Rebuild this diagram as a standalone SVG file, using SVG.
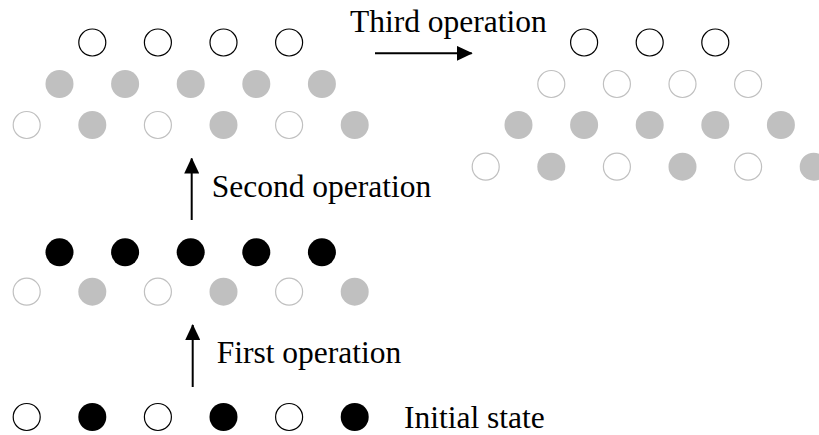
<svg xmlns="http://www.w3.org/2000/svg" width="819" height="435" viewBox="0 0 819 435">
<style>
.o{fill:#fff;stroke:#000;stroke-width:1.2}
.lo{fill:#fff;stroke:#c0c0c0;stroke-width:1.2}
.g{fill:#c0c0c0}
.b{fill:#000}
.t{font-family:"Liberation Serif","Times New Roman",serif;font-size:31.5px;fill:#000}
.a{stroke:#000;stroke-width:2;fill:none}
</style>
<defs>
<marker id="ah" viewBox="0 0 16 15" refX="15" refY="7.5" markerWidth="16" markerHeight="15" markerUnits="userSpaceOnUse" orient="auto">
<path d="M0,0 L16,7.5 L0,15 Z" fill="#000"/>
</marker>
</defs>
<rect width="819" height="435" fill="#fff"/>
<g id="group-third">
<circle class="o" cx="92.3" cy="42.5" r="13.5"/>
<circle class="o" cx="157.9" cy="42.5" r="13.5"/>
<circle class="o" cx="223.5" cy="42.5" r="13.5"/>
<circle class="o" cx="289.1" cy="42.5" r="13.5"/>
<circle class="g" cx="59.5" cy="84" r="14"/>
<circle class="g" cx="125.1" cy="84" r="14"/>
<circle class="g" cx="190.7" cy="84" r="14"/>
<circle class="g" cx="256.3" cy="84" r="14"/>
<circle class="g" cx="321.9" cy="84" r="14"/>
<circle class="lo" cx="26.7" cy="125" r="13.5"/>
<circle class="g" cx="92.3" cy="125" r="14"/>
<circle class="lo" cx="157.9" cy="125" r="13.5"/>
<circle class="g" cx="223.5" cy="125" r="14"/>
<circle class="lo" cx="289.1" cy="125" r="13.5"/>
<circle class="g" cx="354.7" cy="125" r="14"/>
</g>
<g id="group-final">
<circle class="o" cx="584.1" cy="42.5" r="13.5"/>
<circle class="o" cx="649.7" cy="42.5" r="13.5"/>
<circle class="o" cx="715.3" cy="42.5" r="13.5"/>
<circle class="lo" cx="551.3" cy="84" r="13.5"/>
<circle class="lo" cx="616.9" cy="84" r="13.5"/>
<circle class="lo" cx="682.5" cy="84" r="13.5"/>
<circle class="lo" cx="748.1" cy="84" r="13.5"/>
<circle class="g" cx="518.5" cy="125" r="14"/>
<circle class="g" cx="584.1" cy="125" r="14"/>
<circle class="g" cx="649.7" cy="125" r="14"/>
<circle class="g" cx="715.3" cy="125" r="14"/>
<circle class="g" cx="780.9" cy="125" r="14"/>
<circle class="lo" cx="485.7" cy="166.7" r="13.5"/>
<circle class="g" cx="551.3" cy="166.7" r="14"/>
<circle class="lo" cx="616.9" cy="166.7" r="13.5"/>
<circle class="g" cx="682.5" cy="166.7" r="14"/>
<circle class="lo" cx="748.1" cy="166.7" r="13.5"/>
<circle class="g" cx="813.7" cy="166.7" r="14"/>
</g>
<g id="group-second">
<circle class="b" cx="59.5" cy="252.3" r="14"/>
<circle class="b" cx="125.1" cy="252.3" r="14"/>
<circle class="b" cx="190.7" cy="252.3" r="14"/>
<circle class="b" cx="256.3" cy="252.3" r="14"/>
<circle class="b" cx="321.9" cy="252.3" r="14"/>
<circle class="lo" cx="26.7" cy="291.7" r="13.5"/>
<circle class="g" cx="92.3" cy="291.7" r="14"/>
<circle class="lo" cx="157.9" cy="291.7" r="13.5"/>
<circle class="g" cx="223.5" cy="291.7" r="14"/>
<circle class="lo" cx="289.1" cy="291.7" r="13.5"/>
<circle class="g" cx="354.7" cy="291.7" r="14"/>
</g>
<g id="group-initial">
<circle class="o" cx="26.7" cy="417" r="13.5"/>
<circle class="b" cx="92.3" cy="417" r="14"/>
<circle class="o" cx="157.9" cy="417" r="13.5"/>
<circle class="b" cx="223.5" cy="417" r="14"/>
<circle class="o" cx="289.1" cy="417" r="13.5"/>
<circle class="b" cx="354.7" cy="417" r="14"/>
<text class="t" x="404" y="428">Initial state</text>
</g>
<g id="connectors">
<line class="a" x1="192.7" y1="387" x2="192.7" y2="325" marker-end="url(#ah)"/>
<line class="a" x1="191.7" y1="220" x2="191.7" y2="158.5" marker-end="url(#ah)"/>
<line class="a" x1="375" y1="53.3" x2="471.7" y2="53.3" marker-end="url(#ah)"/>
</g>
<g id="labels">
<text class="t" x="216.7" y="363.3">First operation</text>
<text class="t" x="211.7" y="196.7">Second operation</text>
<text class="t" x="350" y="31.7">Third operation</text>
</g>
</svg>
